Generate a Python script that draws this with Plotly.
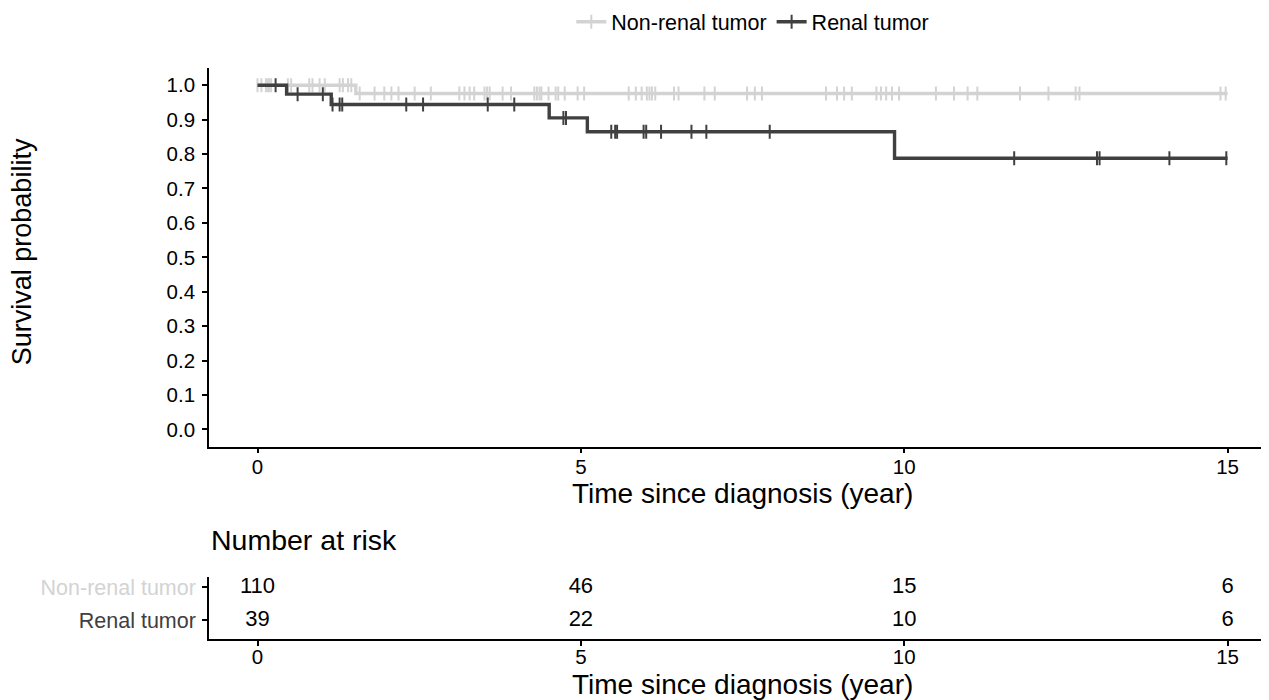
import plotly.graph_objects as go
import numpy as np

# ---------------- data ----------------
groups = ["Non-renal tumor", "Renal tumor"]
colors = ["#D3D3D3", "#404040"]

nonrenal_time = [0.0, 1.52, 15.0]
nonrenal_surv = [1.0, 0.976, 0.976]
nonrenal_censor = [0.0, 0.06, 0.13, 0.16, 0.18, 0.21, 0.47, 0.52, 0.80, 0.85, 0.96, 1.04,
                   1.27, 1.32, 1.40, 1.45, 1.58, 1.81, 1.96, 2.07, 2.18, 2.43, 2.68, 3.12,
                   3.20, 3.28, 3.35, 3.51, 3.55, 3.59, 3.79, 3.92, 4.28, 4.32, 4.36, 4.39,
                   4.50, 4.61, 4.65, 4.75, 4.95, 5.05, 5.74, 5.85, 5.94, 6.02, 6.06, 6.10,
                   6.15, 6.44, 6.51, 6.91, 7.07, 7.57, 7.69, 7.80, 8.79, 8.96, 9.07, 9.19,
                   9.57, 9.64, 9.72, 9.81, 9.92, 10.49, 10.77, 10.98, 11.13, 11.79, 12.23,
                   12.65, 12.71, 14.89, 14.97]

renal_time = [0.0, 0.45, 1.14, 4.51, 5.10, 9.85, 15.0]
renal_surv = [1.0, 0.974, 0.944, 0.905, 0.865, 0.788, 0.788]
renal_censor = [0.28, 0.62, 1.01, 1.16, 1.27, 1.31, 2.30, 2.56, 3.56, 3.97, 4.73, 4.77,
                5.47, 5.53, 5.56, 5.97, 6.01, 6.24, 6.71, 6.94, 7.92, 11.70, 12.98, 13.02,
                14.10, 14.98]

risk_times = [0, 5, 10, 15]
risk_nonrenal = [110, 46, 15, 6]
risk_renal = [39, 22, 10, 6]

x_ticks = [0, 5, 10, 15]
y_ticks = [0.0, 0.1, 0.2, 0.3, 0.4, 0.5, 0.6, 0.7, 0.8, 0.9, 1.0]

FONT = "Liberation Sans, Arial, sans-serif"


def step_at(times, surv, t):
    idx = np.searchsorted(np.array(times), t, side="right") - 1
    return [surv[i] for i in idx]


fig = go.Figure()

series = [
    (groups[0], colors[0], nonrenal_time, nonrenal_surv, nonrenal_censor),
    (groups[1], colors[1], renal_time, renal_surv, renal_censor),
]

for name, col, t, s, c in series:
    fig.add_trace(go.Scatter(x=t, y=s, mode="lines", line=dict(color=col, width=3.4, shape="hv"),
                             showlegend=False, xaxis="x", yaxis="y", hoverinfo="skip"))
    fig.add_trace(go.Scatter(x=c, y=step_at(t, s, c), mode="markers",
                             marker=dict(symbol="line-ns", size=10, color=col,
                                         line=dict(color=col, width=2)),
                             showlegend=False, xaxis="x", yaxis="y", hoverinfo="skip"))
    # legend entry
    fig.add_trace(go.Scatter(x=[None], y=[None], mode="lines+markers", name=name,
                             line=dict(color=col, width=3.4),
                             marker=dict(symbol="line-ns", size=10, color=col,
                                         line=dict(color=col, width=2)),
                             xaxis="x", yaxis="y"))

# risk table text
fig.add_trace(go.Scatter(x=risk_times, y=[1] * len(risk_times), mode="text",
                         text=[str(v) for v in risk_nonrenal],
                         textfont=dict(size=22, color="black", family=FONT),
                         showlegend=False, xaxis="x2", yaxis="y2", hoverinfo="skip"))
fig.add_trace(go.Scatter(x=risk_times, y=[0] * len(risk_times), mode="text",
                         text=[str(v) for v in risk_renal],
                         textfont=dict(size=22, color="black", family=FONT),
                         showlegend=False, xaxis="x2", yaxis="y2", hoverinfo="skip"))

axis_common = dict(showline=True, linecolor="black", linewidth=1.6, ticks="outside",
                   ticklen=5, tickwidth=1.5, tickcolor="black", showgrid=False,
                   zeroline=False, tickfont=dict(size=20.5, color="black", family=FONT))

xr = [-0.75, 15.64]
fig.update_layout(
    width=1269, height=700,
    margin=dict(l=201, r=8, t=60, b=69, autoexpand=False),
    plot_bgcolor="white", paper_bgcolor="white",
    font=dict(family=FONT, color="black"),
    xaxis=dict(domain=[0, 1], range=xr, tickvals=x_ticks, ticktext=[str(v) for v in x_ticks],
               anchor="y", ticklabelstandoff=-4, **axis_common),
    yaxis=dict(domain=[0.3368, 1.0], range=[-0.05, 1.05], tickvals=y_ticks,
               ticktext=[f"{v:.1f}" for v in y_ticks], anchor="x", ticklabelstandoff=3,
               **axis_common),
    xaxis2=dict(domain=[0, 1], range=xr, tickvals=x_ticks, ticktext=[str(v) for v in x_ticks],
                anchor="y2", ticklabelstandoff=-6, **axis_common),
    yaxis2=dict(domain=[0, 0.1086], range=[-0.58, 1.315], tickvals=[1, 0],
                ticktext=[f'<span style="color:{colors[0]}">{groups[0]}</span>',
                          f'<span style="color:{colors[1]}">{groups[1]}</span>'],
                anchor="x2", ticklabelstandoff=2,
                **{**axis_common, "tickfont": dict(size=21.5, family=FONT)}),
    legend=dict(orientation="h", x=0.513, xanchor="center", y=1.081, yanchor="middle",
                font=dict(size=21.5, color="black", family=FONT), itemwidth=30,
                bgcolor="rgba(0,0,0,0)"),
    showlegend=True,
)

annotations = [
    dict(text="Time since diagnosis (year)", x=7.5, xref="x", y=0.2550, yref="paper",
         showarrow=False, font=dict(size=28, color="black", family=FONT),
         xanchor="center", yanchor="middle"),
    dict(text="Time since diagnosis (year)", x=7.5, xref="x2", y=-0.0800, yref="paper",
         showarrow=False, font=dict(size=28, color="black", family=FONT),
         xanchor="center", yanchor="middle"),
    dict(text="Survival probability", x=-0.1767, xref="paper", y=0.6786, yref="paper",
         showarrow=False, textangle=-90, font=dict(size=27, color="black", family=FONT),
         xanchor="center", yanchor="middle"),
    dict(text="Number at risk", x=0.0, xref="paper", y=0.1734, yref="paper",
         showarrow=False, font=dict(size=28.5, color="black", family=FONT),
         xanchor="left", yanchor="middle"),
]
fig.update_layout(annotations=annotations)

fig.write_html("out.html")
